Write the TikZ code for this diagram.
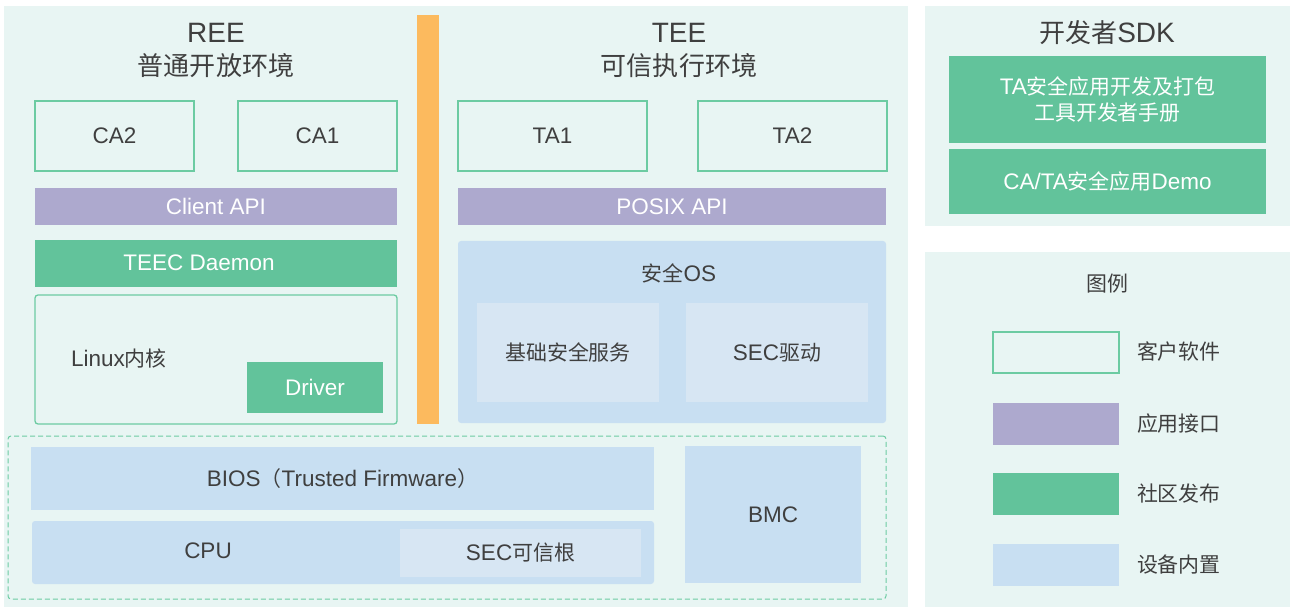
\documentclass[tikz,border=0pt]{standalone}
\usepackage{fontspec}
\setmainfont{Liberation Sans}
\newfontfamily\zhfont[Scale=0.93]{Noto Sans CJK SC}
\newcommand{\zh}[1]{{\zhfont #1}}
\definecolor{panel}{HTML}{E8F5F3}
\definecolor{mint}{HTML}{62C39B}
\definecolor{mintline}{HTML}{6CCBA2}
\definecolor{lilac}{HTML}{ADA9CE}
\definecolor{sky}{HTML}{C8DFF2}
\definecolor{skylight}{HTML}{D7E6F3}
\definecolor{amber}{HTML}{FCBA5E}
\definecolor{ink}{HTML}{3F3F3F}
\tikzset{
  every node/.style={inner sep=0pt, outer sep=0pt, font=\fontsize{22.5}{27}\selectfont, text=ink},
  nw/.style={anchor=north west},
  swbox/.style={nw, draw=mintline, line width=1.3pt, fill=panel},
  apibox/.style={nw, fill=lilac, text=white},
  commbox/.style={nw, fill=mint, text=white},
  devbox/.style={nw, fill=sky},
  devinner/.style={nw, fill=skylight},
  title/.style={font=\fontsize{28}{33}\selectfont, align=center},
}
\begin{document}
\begin{tikzpicture}[x=1pt, y=-1pt]
\useasboundingbox (0,0) rectangle (1290,609);
\fill[white] (0,0) rectangle (1290,609);

% background panels
\fill[panel] (4,6) rectangle (908,607);
\fill[panel] (925,6) rectangle (1290,226);
\fill[panel] (925,252) rectangle (1290,607);

% separator between the two worlds
\node[nw, fill=amber, minimum width=22pt, minimum height=409pt] (sep) at (417,15) {};

% REE side
\node[title] (reet) at (216,50) {REE\\[0pt]\zh{普通开放环境}};
\node[swbox, minimum width=159pt, minimum height=70pt] (ca2) at (35,101) {CA2};
\node[swbox, minimum width=159pt, minimum height=70pt] (ca1) at (238,101) {CA1};
\node[apibox, minimum width=362pt, minimum height=37pt] (capi) at (35,188) {Client API};
\node[commbox, minimum width=362pt, minimum height=47pt] (teec) at (35,240) {};
\node[text=white] (teect) at (199,263) {TEEC Daemon};
\node[swbox, rounded corners=3pt, minimum width=362pt, minimum height=129pt] (kern) at (35,295) {};
\node (kernt) at (119,359) {Linux\zh{内核}};
\node[commbox, minimum width=136pt, minimum height=51pt] (drv) at (247,362) {Driver};

% TEE side
\node[title] (teet) at (679,50) {TEE\\[0pt]\zh{可信执行环境}};
\node[swbox, minimum width=189pt, minimum height=70pt] (ta1) at (458,101) {TA1};
\node[swbox, minimum width=189pt, minimum height=70pt] (ta2) at (698,101) {TA2};
\node[apibox, minimum width=428pt, minimum height=37pt] (papi) at (458,188) {POSIX API};
\node[devbox, rounded corners=3pt, minimum width=428pt, minimum height=182pt] (sos) at (458,241) {};
\node (sost) at (679,273) {\zh{安全}OS};
\node[devinner, minimum width=182pt, minimum height=99pt] (basic) at (477,303) {\zh{基础安全服务}};
\node[devinner, minimum width=182pt, minimum height=99pt] (secdrv) at (686,303) {SEC\zh{驱动}};

% hardware layer
\node[nw, draw=mintline, dash pattern=on 5pt off 3pt, line width=1pt, rounded corners=3pt, minimum width=878pt, minimum height=163pt] (hw) at (8,436) {};
\node[devbox, minimum width=623pt, minimum height=63pt] (bios) at (31,447) {BIOS\zh{（}Trusted Firmware\zh{）}};
\node[devbox, rounded corners=3pt, minimum width=622pt, minimum height=63pt] (cpu) at (32,521) {};
\node (cput) at (208,551) {CPU};
\node[devinner, minimum width=241pt, minimum height=48pt] (root) at (400,529) {SEC\zh{可信根}};
\node[devbox, minimum width=176pt, minimum height=137pt] (bmc) at (685,446) {BMC};

% developer SDK
\node[title] (sdkt) at (1107,33) {\zh{开发者}SDK};
\node[commbox, minimum width=317pt, minimum height=87pt, align=center] (guide) at (949,56)
  {TA\zh{安全应用开发及打包}\\[-1pt]\zh{工具开发者手册}};
\node[commbox, minimum width=317pt, minimum height=65pt] (demo) at (949,149) {CA/TA\zh{安全应用}Demo};

% legend
\node (legt) at (1107,284) {\zh{图例}};
\node[swbox, minimum width=126pt, minimum height=41pt] (lg1) at (993,332) {};
\node[apibox, minimum width=126pt, minimum height=42pt] (lg2) at (993,403) {};
\node[commbox, minimum width=126pt, minimum height=42pt] (lg3) at (993,473) {};
\node[devbox, minimum width=126pt, minimum height=42pt] (lg4) at (993,544) {};
\node[anchor=west] (lgt1) at (1137,352) {\zh{客户软件}};
\node[anchor=west] (lgt2) at (1137,424) {\zh{应用接口}};
\node[anchor=west] (lgt3) at (1137,494) {\zh{社区发布}};
\node[anchor=west] (lgt4) at (1137,565) {\zh{设备内置}};
\end{tikzpicture}
\end{document}
